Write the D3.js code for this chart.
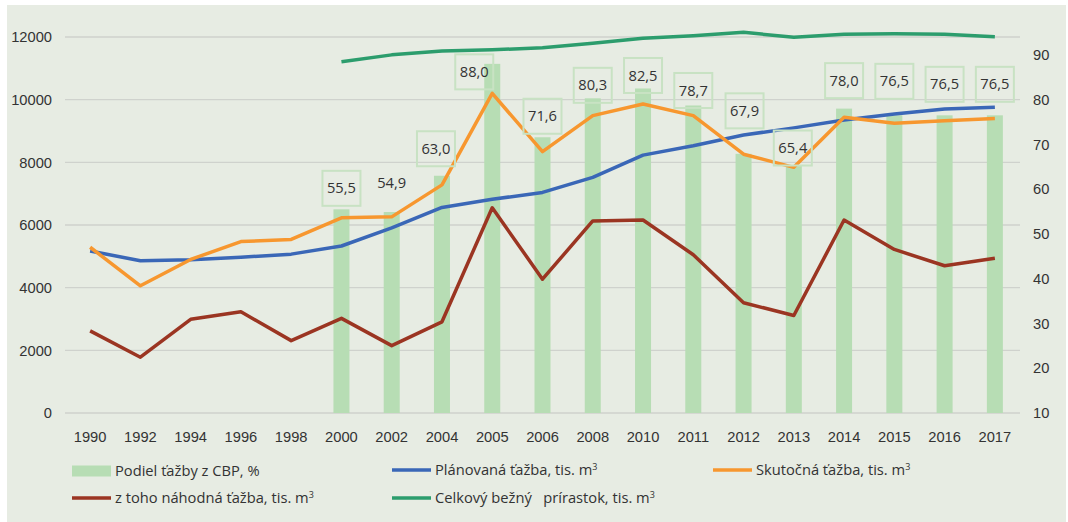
<!DOCTYPE html>
<html>
<head>
<meta charset="utf-8">
<script src="https://cdn.jsdelivr.net/npm/d3@7"></script>
<style>
  html, body { margin: 0; padding: 0; background: #ffffff; }
  svg { display: block; font-family: "Open Sans", "Noto Sans", sans-serif; }
  .grid line { stroke: #cfd2cd; stroke-width: 1.3; }
  .tick text { fill: #333333; font-size: 14.7px; }
  .lbl { fill: #333333; font-size: 14.7px; }
</style>
</head>
<body>
<div id="chart"></div>
<script>
// data
var years = ["1990","1992","1994","1996","1998","2000","2002","2004","2005","2006","2008","2010","2011","2012","2013","2014","2015","2016","2017"];
var podiel = [null,null,null,null,null,55.5,54.9,63.0,88.0,71.6,80.3,82.5,78.7,67.9,65.4,78.0,76.5,76.5,76.5];
var planovana = [5170,4860,4890,4970,5070,5330,5910,6560,6820,7040,7520,8230,8530,8870,9100,9350,9540,9700,9760];
var skutocna = [5290,4060,4900,5470,5540,6230,6260,7280,10200,8340,9490,9860,9490,8260,7840,9440,9250,9330,9400];
var nahodna = [2620,1780,2990,3230,2310,3020,2150,2910,6550,4270,6130,6160,5050,3520,3110,6160,5220,4700,4940];
var prirastok = [null,null,null,null,null,11210,11430,11550,11590,11660,11800,11960,12040,12150,11990,12090,12100,12090,12010];
var leftTicks = [0,2000,4000,6000,8000,10000,12000];
var rightTicks = [10,20,30,40,50,60,70,80,90];

// label placement tweaks (pixels from the bar top), like the manual moves in the original
var labelNudge = {
  "2000": [0,-21], "2002": [0,-29], "2004": [-6,-27], "2005": [-18,8], "2006": [0,-21],
  "2008": [0,-13], "2010": [0,-13], "2011": [0,-15], "2012": [1,-43], "2013": [-1,-17],
  "2014": [0,-28], "2015": [0,-34], "2016": [0,-31], "2017": [0,-31]
};
var noBorder = ["2002"];

var W = 1068, H = 522;
var margin = {top: 37, right: 48, bottom: 109, left: 65};
var width = W - margin.left - margin.right,
    height = H - margin.top - margin.bottom;

var svg = d3.select("#chart").append("svg")
    .attr("width", W)
    .attr("height", H);

svg.append("rect")
    .attr("x", 7).attr("y", 5)
    .attr("width", 1059).attr("height", H - 5)
    .attr("fill", "#e7ece3");

var g = svg.append("g")
    .attr("transform", "translate(" + margin.left + "," + margin.top + ")");

var x = d3.scaleBand().domain(years).range([0, width]);
var y = d3.scaleLinear().domain([0, 12000]).range([height, 0]);
// 80 on the right lines up with 10000 on the left
var y2 = d3.scaleLinear().domain([10, 10 + (80 - 10) * 12000 / 10000]).range([height, 0]);

// gridlines
g.append("g").attr("class", "grid")
    .selectAll("line").data(leftTicks).enter().append("line")
    .attr("x1", 0).attr("x2", width)
    .attr("y1", function(d){ return y(d); })
    .attr("y2", function(d){ return y(d); });

// axes
var yAxis = d3.axisLeft(y).tickValues(leftTicks).tickFormat(d3.format("d")).tickSize(0).tickPadding(13);
g.append("g").call(yAxis).call(function(s){ s.select(".domain").remove(); });

var y2Axis = d3.axisRight(y2).tickValues(rightTicks).tickFormat(d3.format("d")).tickSize(0).tickPadding(13);
g.append("g").attr("transform", "translate(" + width + ",0)")
    .call(y2Axis).call(function(s){ s.select(".domain").remove(); });

var xAxis = d3.axisBottom(x).tickSize(0).tickPadding(19);
g.append("g").attr("transform", "translate(0," + height + ")")
    .call(xAxis).call(function(s){ s.select(".domain").remove(); });

// bars
var barW = 16;
var barData = years.map(function(d, i){ return {year: d, v: podiel[i]}; })
    .filter(function(d){ return d.v != null; });
g.selectAll(".bar").data(barData).enter().append("rect")
    .attr("class", "bar")
    .attr("x", function(d){ return x(d.year) + x.bandwidth() / 2 - barW / 2; })
    .attr("width", barW)
    .attr("y", function(d){ return y2(d.v); })
    .attr("height", function(d){ return height - y2(d.v); })
    .attr("fill", "#b7ddb4");

// lines
function drawLine(vals, color){
    var pts = years.map(function(d, i){ return {year: d, v: vals[i]}; })
        .filter(function(d){ return d.v != null; });
    var line = d3.line()
        .x(function(d){ return x(d.year) + x.bandwidth() / 2; })
        .y(function(d){ return y(d.v); });
    g.append("path").datum(pts)
        .attr("d", line)
        .attr("fill", "none")
        .attr("stroke", color)
        .attr("stroke-width", 3.5)
        .attr("stroke-linejoin", "round");
}
drawLine(planovana, "#3a67b7");
drawLine(skutocna, "#f7972f");
drawLine(nahodna, "#9b3522");
drawLine(prirastok, "#2c9d6d");

// bar labels
var labels = g.selectAll(".blabel").data(barData).enter().append("g")
    .attr("transform", function(d){
        var n = labelNudge[d.year] || [0, -20];
        return "translate(" + (x(d.year) + x.bandwidth() / 2 + n[0]) + "," + (y2(d.v) + n[1]) + ")";
    });
labels.filter(function(d){ return noBorder.indexOf(d.year) == -1; })
    .append("rect")
    .attr("x", -19).attr("y", -17.5)
    .attr("width", 38).attr("height", 35)
    .attr("fill", "none")
    .attr("stroke", "#c8e2c3")
    .attr("stroke-width", 2);
labels.append("text")
    .attr("class", "lbl")
    .attr("text-anchor", "middle")
    .attr("dy", "0.35em")
    .text(function(d){ return d3.format(".1f")(d.v).replace(".", ","); });

// legend
var legend = [
    {name: "Podiel ťažby z CBP, %", type: "bar", color: "#b7ddb4", x: 72, y: 471},
    {name: "Plánovaná ťažba, tis. m", sup: "3", type: "line", color: "#3a67b7", x: 392, y: 470},
    {name: "Skutočná ťažba, tis. m", sup: "3", type: "line", color: "#f7972f", x: 713, y: 470},
    {name: "z toho náhodná ťažba, tis. m", sup: "3", type: "line", color: "#9b3522", x: 72, y: 498},
    {name: "Celkový bežný   prírastok, tis. m", sup: "3", type: "line", color: "#2c9d6d", x: 392, y: 498}
];
var lg = svg.selectAll(".legend").data(legend).enter().append("g")
    .attr("transform", function(d){ return "translate(" + d.x + "," + d.y + ")"; });
lg.each(function(d){
    var s = d3.select(this);
    if(d.type == "bar"){
        s.append("rect").attr("x", 0).attr("y", -5.5).attr("width", 39).attr("height", 11).attr("fill", d.color);
    }else{
        s.append("line").attr("x1", 0).attr("x2", 39).attr("y1", 0).attr("y2", 0)
            .attr("stroke", d.color).attr("stroke-width", 3.5);
    }
    var t = s.append("text").attr("class", "lbl").attr("x", 43).attr("dy", "0.35em")
        .style("white-space", "pre");
    t.append("tspan").text(d.name);
    if(d.sup){
        t.append("tspan").attr("dy", "-0.55em").style("font-size", "9px").text(d.sup);
    }
});
</script>
</body>
</html>
